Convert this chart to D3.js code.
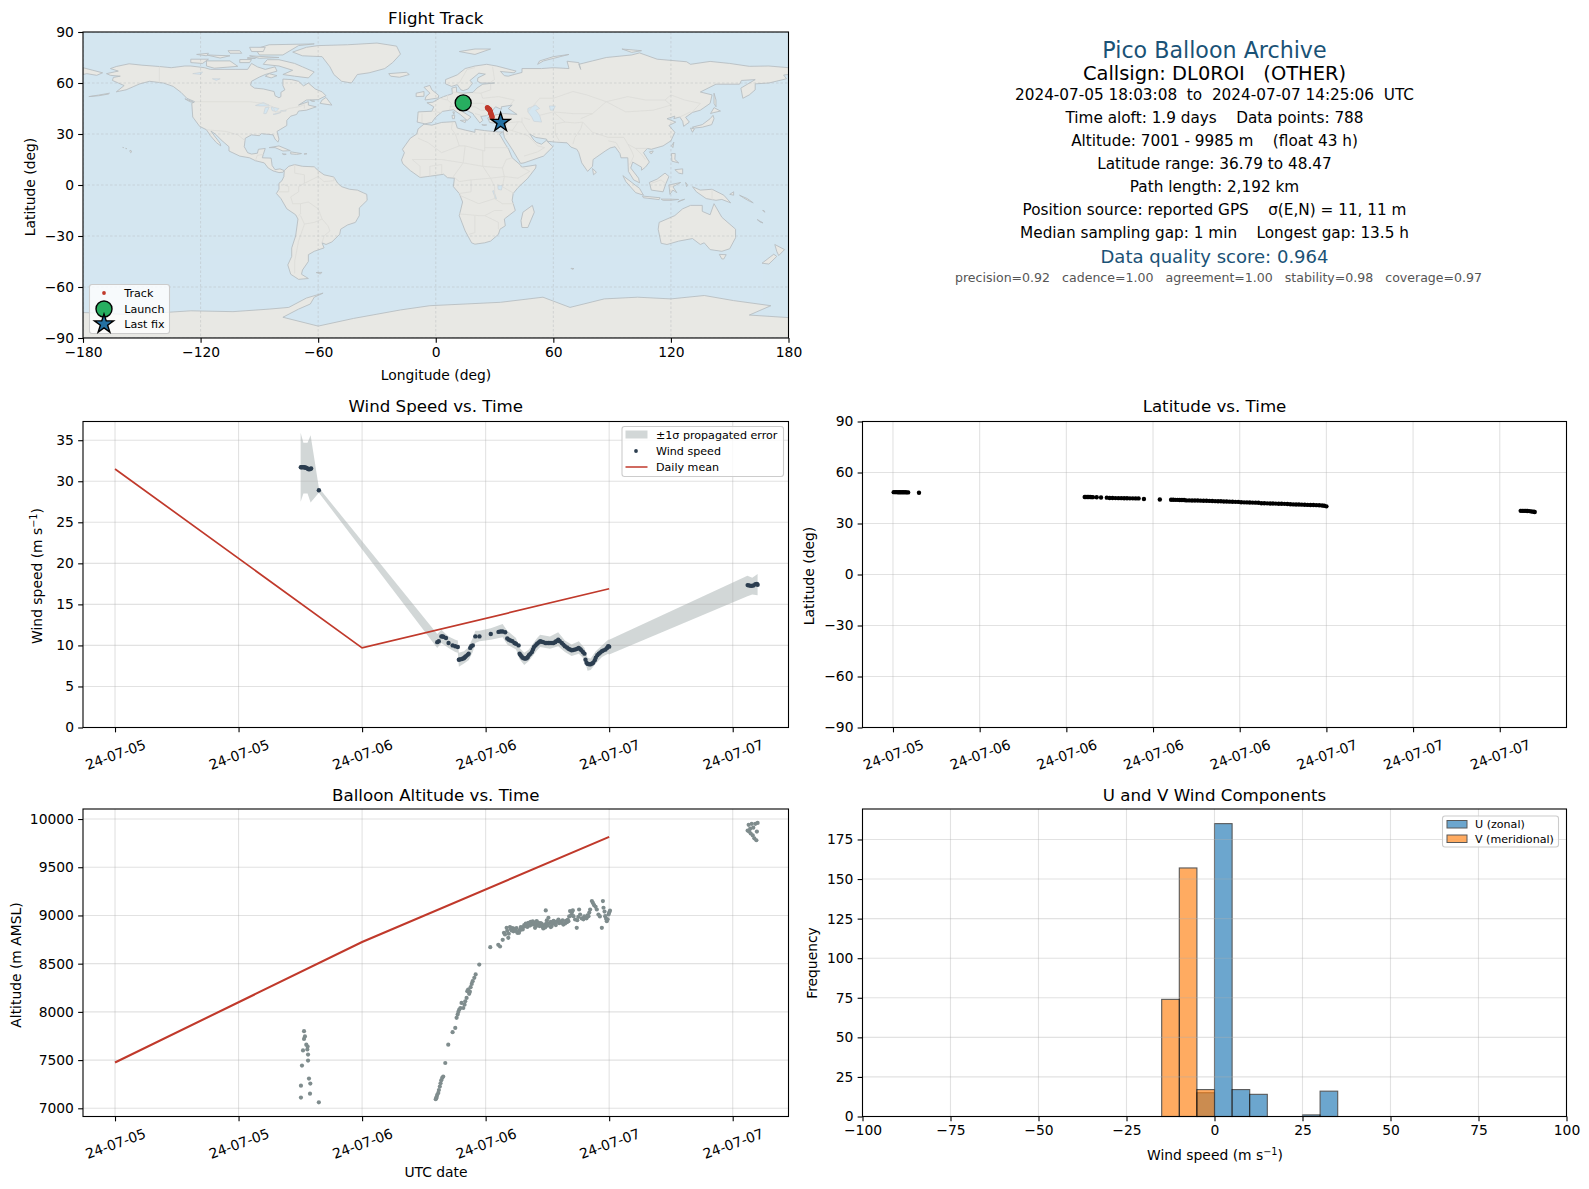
<!DOCTYPE html>
<html>
<head>
<meta charset="utf-8">
<script src="https://cdn.jsdelivr.net/npm/d3@7"></script>
<style>
  html, body { margin: 0; padding: 0; background: #fff; }
  text { font-family: "DejaVu Sans", sans-serif; fill: #000; }
  .pre { white-space: pre; }
</style>
</head>
<body>
<svg id="chart" width="1589" height="1189"></svg>
<script>
// ---- values. Time series are [hours since 2024-07-05 00:00 UTC, value].

const windPoints = [
  [18.05,31.7],[18.15,31.7],[18.25,31.72],[18.35,31.7],[18.45,31.68],[18.55,31.65],[18.65,31.6],[18.75,31.5],[18.85,31.45],[18.95,31.5],[19.05,31.55],[19.8,28.9],
  [31.3,10.4],[31.45,10.5],[31.7,11.1],[31.8,11.1],[31.9,11.05],[32.15,10.9],[32.4,10.3],[32.8,10.0],[33.05,9.9],[33.3,9.8],
  [33.4,8.25],[33.5,8.3],[33.65,8.33],[33.8,8.4],[33.9,8.45],[34.0,8.6],[34.1,8.7],[34.25,8.85],[34.35,9.0],[34.5,9.7],[34.6,9.9],[34.75,10.0],
  [35.0,11.1],[35.4,11.1],[36.5,11.4],[37.25,11.65],[37.45,11.7],[37.65,11.7],[37.9,11.6],[38.1,10.85],[38.25,10.7],[38.4,10.6],[38.6,10.5],[38.8,10.3],[38.95,10.2],[39.2,10.0],
  [39.3,9.0],[39.4,8.8],[39.5,8.65],[39.6,8.5],[39.75,8.4],[39.9,8.4],[40.0,8.45],[40.1,8.6],[40.2,8.8],[40.35,9.0],[40.5,9.2],[40.6,9.5],[40.7,9.8],[40.85,10.0],[41.0,10.2],[41.15,10.35],[41.3,10.5],[41.45,10.45],[41.6,10.4],[41.8,10.3],[41.95,10.3],[42.1,10.3],[42.25,10.3],[42.45,10.3],[42.6,10.3],[42.75,10.4],[42.85,10.5],[43.05,10.7],[43.2,10.5],[43.4,10.3],[43.55,10.1],[43.7,9.9],[43.9,9.75],[44.05,9.6],[44.2,9.5],[44.35,9.4],[44.5,9.45],[44.7,9.5],[44.9,9.6],[45.05,9.7],[45.2,9.55],[45.3,9.4],[45.45,9.2],[45.6,9.0],
  [45.7,8.25],[45.8,7.9],[45.9,7.75],[46.05,7.7],[46.2,7.7],[46.35,7.8],[46.45,7.9],[46.6,8.2],[46.7,8.5],[46.85,8.8],[47.0,9.0],[47.15,9.15],[47.3,9.3],[47.45,9.4],[47.65,9.5],[47.8,9.7],[47.9,9.9],[48.0,9.85],
  [61.45,17.35],[61.6,17.3],[61.8,17.25],[62.0,17.3],[62.2,17.45],[62.35,17.5],[62.42,17.4]
];

// [hours, lower, upper] of the +/-1 sigma ribbon
const windBand = [
  [18.03,27.5,35.9],[18.3,28.5,34.7],[18.7,28.5,34.7],[19.0,27.4,35.6],[19.8,28.6,29.2],
  [31.3,9.7,11.4],[31.7,10.3,11.9],[32.4,9.7,11.1],[33.05,9.2,10.7],[33.3,9.1,10.6],[33.4,7.4,9.1],[33.9,7.8,9.3],[34.35,8.2,9.8],[34.75,9.2,10.9],[35.0,10.3,11.8],[35.4,10.5,11.8],[36.5,10.7,12.1],[37.65,11.0,12.6],[38.1,10.1,11.8],[38.95,9.5,10.9],[39.3,8.3,9.7],[39.75,7.6,9.1],[40.2,8.1,9.5],[41.0,9.4,10.9],[41.3,9.8,11.3],[42.25,9.6,11.1],[43.05,9.9,11.6],[43.7,9.2,10.6],[44.35,8.7,10.1],[45.05,9.0,10.5],[45.6,8.3,9.7],[45.9,6.9,8.5],[46.2,7.0,8.4],[46.7,7.8,9.3],[47.3,8.6,10.0],[47.9,9.0,10.7],[48.0,8.9,10.7],
  [61.43,16.0,18.5],[61.9,16.2,18.25],[62.42,16.1,18.7]
];

const meanHours = [0, 24, 48];
const meanWind = [31.5, 9.7, 16.9];
const meanAltitude = [7475, 8725, 9815];

const altitudePoints = [
  [18.36,7800],[18.45,7745],[18.36,7720],[18.58,7660],[18.71,7640],[18.68,7610],[18.26,7600],[18.75,7557],[18.75,7495],[18.16,7443],[18.84,7308],[18.97,7256],[18.06,7235],[18.94,7152],[18.06,7111],[19.8,7062],
  [31.15,7095],[31.2,7105],[31.25,7120],[31.3,7140],[31.4,7160],[31.46,7190],[31.55,7225],[31.62,7260],[31.69,7290],[31.78,7315],[31.88,7330],[32.08,7470],[32.37,7660],[32.79,7790],[33.05,7834],[33.18,7938],[33.28,7972],[33.35,8000],[33.44,8024],[33.55,8040],[33.66,8093],[33.83,8040],[33.95,8075],[34.02,8110],[34.15,8145],[34.22,8215],[34.3,8230],[34.4,8187],[34.47,8210],[34.54,8256],[34.65,8290],[34.74,8318],[34.9,8353],[35.03,8388],[35.38,8491],
  [36.45,8671],[37.23,8695],[37.4,8678],[37.66,8747],[37.78,8820],[37.88,8803],[38.04,8872],[38.1,8840],[38.2,8768],[38.25,8810],[38.37,8879],[38.45,8860],[38.53,8844],[38.62,8870],[38.7,8835],[38.78,8860],[38.85,8855],[38.95,8840],[39.0,8870],[39.08,8820],[39.24,8820],[39.3,8845],[39.35,8850],[39.42,8880],[39.5,8872],[39.6,8855],[39.65,8880],[39.75,8900],[39.82,8889],[39.9,8915],[39.95,8900],[40.05,8880],[40.15,8924],[40.25,8915],[40.3,8895],[40.38,8934],[40.45,8905],[40.5,8920],[40.58,8940],[40.64,8907],[40.72,8925],[40.8,8872],[40.88,8905],[40.96,8941],[41.05,8895],[41.1,8925],[41.25,8890],[41.35,8920],[41.45,8914],[41.52,8885],[41.6,8865],[41.7,8900],[41.78,8875],[41.84,9052],[41.9,8920],[41.95,8950],[42.03,8895],[42.1,8976],[42.2,8920],[42.33,8879],[42.33,8934],[42.42,8890],[42.5,8915],[42.6,8945],[42.75,8924],[42.82,8900],[42.9,8935],[43.07,8958],[43.15,8920],[43.25,8935],[43.4,8924],[43.48,8950],[43.55,8905],[43.72,8917],[43.8,8945],[43.9,8930],[43.97,8955],[44.04,8941],[44.12,8990],[44.2,9045],[44.3,9000],[44.38,9030],[44.47,9052],[44.53,8993],[44.69,8958],[44.85,8872],[44.9,8950],[45.0,8985],[45.08,9062],[45.18,9010],[45.34,8969],[45.5,8960],[45.58,8990],[45.66,8976],[45.8,8970],[45.9,9000],[45.99,8993],[46.07,9030],[46.15,9062],[46.32,9149],[46.42,9130],[46.54,9107],[46.68,9090],[46.8,9062],[46.96,9010],[47.1,8990],[47.29,8872],[47.39,9149],[47.45,9080],[47.55,9040],[47.61,8993],[47.7,8965],[47.77,8941],[47.85,8960],[47.94,9010],[48.0,9030],[48.08,9050],
  [61.45,9880],[61.55,9940],[61.6,9870],[61.7,9900],[61.75,9850],[61.85,9950],[61.95,9830],[62.0,9910],[62.1,9800],[62.2,9950],[62.3,9780],[62.35,9870],[62.42,9960]
];

const latitudePoints = [
  [18.05,48.45],[18.15,48.45],[18.25,48.44],[18.35,48.42],[18.45,48.4],[18.55,48.4],[18.65,48.38],[18.75,48.36],[18.85,48.35],[18.95,48.33],[19.05,48.3],[19.8,48.1],
  [31.27,45.6],[31.35,45.6],[31.45,45.6],[31.55,45.55],[31.65,45.55],[31.75,45.5],[31.84,45.5],[32.1,45.4],[32.4,45.3],[32.8,45.2],
  [33.0,45.0],[33.2,45.0],[33.4,44.95],[33.6,44.9],[33.8,44.9],[34.0,44.85],[34.2,44.85],[34.4,44.8],[34.6,44.8],[34.8,44.75],[35.0,44.75],[35.37,44.4],[36.47,44.1],
  [37.25,43.95],[37.4,43.95],[37.55,43.9],[37.7,43.9],[37.85,43.85],[38.0,43.85],[38.15,43.8],[38.3,43.6],[38.5,43.6],[38.7,43.55],[38.9,43.5],[39.1,43.5],[39.3,43.45],[39.5,43.4],[39.7,43.4],[39.9,43.3],[40.1,43.2],[40.3,43.15],[40.5,43.1],[40.7,43.05],[40.9,42.95],[41.1,42.9],[41.3,42.85],[41.5,42.8],[41.7,42.75],[41.9,42.7],[42.1,42.5],[42.3,42.45],[42.5,42.4],[42.7,42.35],[42.9,42.3],[43.1,42.25],[43.3,42.2],[43.5,41.95],[43.7,41.9],[43.9,41.85],[44.1,41.8],[44.3,41.75],[44.5,41.7],[44.7,41.65],[44.9,41.6],[45.1,41.55],[45.3,41.5],[45.5,41.3],[45.7,41.25],[45.9,41.2],[46.1,41.15],[46.3,41.1],[46.5,41.0],[46.7,40.95],[46.9,40.9],[47.1,40.85],[47.3,40.8],[47.5,40.7],[47.7,40.6],[47.85,40.4],[48.0,40.1],
  [61.45,37.45],[61.6,37.4],[61.75,37.4],[61.9,37.35],[62.05,37.3],[62.2,37.1],[62.35,36.9],[62.42,36.8]
];

const trackLon = [26.3,26.5,26.7,27.0,27.3,27.5,27.6,27.7,27.9,28.0,28.05,28.1,28.3,28.5,28.7,28.8,33.0];
const trackLat = [45.6,45.3,45.0,44.8,44.5,44.2,44.0,43.6,43.2,42.8,42.4,42.0,41.5,41.0,40.3,39.8,36.79];
const launchFix = [14.0, 48.3];
const lastFix = [33.1, 36.79];

const histEdgesU = [-5,0,5,10,25,30];
const histCountsU = [15,185,17,14,1,16];
const histEdgesV = [-15,-10,-5];
const histCountsV = [74,157,17];
const histBinWidth = 5;

const lonTicks = [-180,-120,-60,0,60,120,180];
const latTicks = [-90,-60,-30,0,30,60,90];
const windTicks = [0,5,10,15,20,25,30,35];
const altTicks = [7000,7500,8000,8500,9000,9500,10000];
const histXTicks = [-100,-75,-50,-25,0,25,50,75,100];
const histYTicks = [0,25,50,75,100,125,150,175];
const leftTimeTicks = [0,12,24,36,48,60];
const rightTimeTicks = [18,24,30,36,42,48,54,60];

// land outlines, [lon, lat]
const land = [
  // North America
  [[-168,65.5],[-164,66.5],[-162,67],[-166,68.5],[-163,69.7],[-156.5,71.3],[-150,70.5],[-141,69.7],[-135,69],[-128,70],[-125,70],[-118,69],[-115,68],[-108,68],[-102,68],[-96,68],[-94,71.5],[-91,69.5],[-87,68],[-82,69.5],[-81,67],[-87,65],[-90,63.5],[-94,61],[-94.5,58.7],[-92.5,57],[-88,56.5],[-82.5,55],[-82,52.5],[-80,51.3],[-79,52],[-79,54.5],[-77,56],[-78,58.5],[-78,62.3],[-73.5,62],[-70,61],[-67.5,58.3],[-65,60],[-61.5,56.5],[-58,54.8],[-56,52.5],[-60,50.2],[-66,50],[-70,47],[-65,49],[-65,47],[-61,46],[-66,44],[-70,43.5],[-71,41.5],[-74,40.5],[-76,38],[-76,35],[-81,31.5],[-80,27],[-80.5,25.2],[-82,27],[-83,29.5],[-85.5,29.8],[-89,30.2],[-90,29],[-94,29.5],[-97.2,27.5],[-97.7,22.5],[-96,19],[-94,18.2],[-91,18.7],[-90.5,21],[-87,21.5],[-88,18],[-88.5,16],[-84,15.8],[-83.5,11.5],[-82,9],[-79.5,9.5],[-77.3,8.5],[-78,7.5],[-80,7.3],[-83,8.3],[-85.5,10],[-87.5,13],[-92,14.3],[-95,16],[-100,17],[-105.5,20],[-105.5,22.5],[-109,26],[-112.5,30],[-114.7,31.7],[-113,29],[-110,24.5],[-109.7,23],[-112,25],[-115,29],[-117,32.5],[-120.5,34.5],[-124,40],[-124.5,48],[-123,49],[-127,51],[-130,54.5],[-134,58],[-139,60],[-146,61],[-151,59.5],[-154,58],[-158,56],[-163,54.8],[-159,58.5],[-162,60],[-165,61.5],[-164.5,63.3],[-161,64],[-166,64.5]],
  // Greenland and the Arctic islands
  [[-73,78.2],[-66,81],[-60,82],[-45,82.5],[-30,83.5],[-20,81.7],[-18,77],[-22,72],[-26,68.5],[-34,66],[-40,65],[-43,60],[-48,61],[-52,65],[-54,69.5],[-58,75.5],[-68,76]],
  [[-80,73.7],[-72,71.5],[-68,69.5],[-62,66.5],[-65,63],[-72,64],[-78,65],[-73,67.5],[-80,70],[-88,71],[-86,73.7]],
  [[-117,73],[-105,73],[-101,69.8],[-113,68.7],[-117,70]],
  [[-125,74],[-116,74],[-119,71.5],[-125,72]],
  [[-90,76.5],[-78,76.5],[-70,82],[-62,83],[-85,82.5],[-92,80]],
  [[-95,76],[-80,75],[-90,74.5]],
  [[-117,76.5],[-105,76],[-110,74.7]],
  [[-100,73.8],[-94,73.8],[-95,72],[-100,72]],
  [[-122,76.8],[-116,77.5],[-117,76]],[[-106,79],[-100,79],[-99,77.5],[-105,77.5]],[[-95,81],[-87,81],[-88,78.5],[-94,78.5]],[[-85,65.5],[-81,64.3],[-84,63],[-87,64]],[[-96,75],[-92,74.5],[-96,74.3]],
  [[-59,48],[-53,47],[-56,51.5],[-58,50]],
  [[-128,50.7],[-124,49],[-123.5,48.5],[-125.5,49]],
  [[-64,49.8],[-61.8,49.3],[-63,49.2]],
  [[-85,22],[-80,23],[-74.2,20.2],[-78,20],[-82,22]],
  [[-74,19.5],[-68.5,18.5],[-71,18],[-74,18.3]],
  [[-78.3,18.4],[-76.3,18.1],[-77.5,17.8]],
  [[-67,18.5],[-65.7,18.4],[-67,18]],
  [[-156,20.5],[-155,19.7],[-155.7,19],[-156,19.5]],
  [[-159.7,22.2],[-159.3,22],[-159.6,21.9]],
  [[-158.2,21.6],[-157.7,21.4],[-158.1,21.3]],
  [[-177,52],[-172,52.5],[-167,53.5],[-166.5,54],[-172,52.9]],
  [[-24,65.5],[-15,66.3],[-13.5,65],[-18.5,63.4],[-23,64]],
  // South America
  [[-77.3,8.5],[-75,11],[-72,12],[-68,11],[-62,10.7],[-60,8.5],[-57,6],[-52,4.7],[-50,1],[-48,-1],[-44,-2.5],[-40,-3],[-35.2,-5.5],[-35,-9],[-39,-13.5],[-39,-18],[-41,-22],[-45,-23.5],[-48.5,-26],[-49,-29],[-53,-33.5],[-56,-35],[-58,-34],[-57,-37],[-62,-39],[-65,-41],[-65,-45],[-68,-50],[-68.5,-52.5],[-65,-55],[-70,-55.5],[-74,-52.5],[-75.5,-47],[-73.5,-42],[-73.5,-37],[-71.5,-30],[-70.3,-20],[-71.5,-17.5],[-76,-14],[-79,-8],[-81.3,-5],[-80,-2.5],[-80,1],[-78.5,2.5],[-77.5,5]],
  [[-61,-51.5],[-58,-51.4],[-59,-52.3]],
  // Africa and Madagascar
  [[-6,35.8],[-2,35.2],[3,36.8],[10,37.3],[11,33.5],[15,32.3],[20,31],[20,32.8],[25,32],[32,31.2],[34.2,31.2],[32.5,30],[35.5,24],[37.2,21],[39,16],[43,12],[44,10.5],[51.2,11.8],[51,10],[47,4],[42,-1.5],[39.5,-5],[39,-9],[40.6,-15],[35,-20],[35.5,-24],[32.8,-26],[32,-29],[28,-33],[25,-34],[20,-34.8],[18.3,-34],[15,-27],[12,-18],[13.7,-10],[12,-5],[9,-1],[9.5,4],[6,4.3],[4,6.3],[-4,5],[-8,4.4],[-13,8.5],[-16.8,12.5],[-17.5,14.7],[-16,19],[-17,21],[-13,27.5],[-9.7,30],[-9,33]],
  [[49.3,-12],[50.3,-16],[47,-25],[44,-25],[43.5,-21],[44.5,-16]],
  // Eurasia
  [[-9.5,37],[-9.3,38.7],[-9,43],[-2,43.4],[-1,46],[-4.5,48.4],[-1.5,48.7],[2,51],[4,52],[8.5,53.7],[8.2,57],[10.5,57.7],[10.7,54.5],[14,54],[19,54.5],[21,57],[24,59.3],[30,60],[23,60],[21.3,61],[21.5,63],[25.3,65.2],[22,65.8],[17.5,61.5],[18.8,59.8],[16.5,56.5],[14,55.5],[12.8,56],[11,59],[8,58],[5,59.5],[5,62],[11,64.8],[15,68.5],[20,70],[26,71],[31,70],[41,67],[40,66],[33,66.8],[35,64.3],[37,64],[40,65],[44,66.2],[44,68.5],[54,68.5],[60,69],[68,68.5],[67,72.8],[73,72],[74,68],[73,71],[80,73],[87,75],[100,76.5],[104,77.7],[113,74],[128,72.5],[130,71],[140,72.7],[150,71.5],[160,69.8],[170,70],[180,69],[180,65],[177.5,64.7],[179,62.5],[170,60],[163,59.5],[163,56],[160,53],[156.7,51],[155.7,57],[163,62],[156,61.5],[155,59.3],[143,59.3],[135,54.7],[141,53],[140,48],[135,44],[131,42.7],[127.5,39.8],[129.4,37],[126.5,34.5],[126,37.5],[124.5,40],[121.5,39],[122,40.5],[118,39],[122.5,37],[119,35],[122,31],[120,26],[116,23],[110,21],[108,21.5],[106,19],[109,13.5],[107,10.5],[105,8.7],[105,10.5],[100.5,13.5],[99.5,10],[103.5,4],[104,1.3],[101,3],[98.3,8],[98,16],[94.5,16],[94,18.5],[91.5,22.5],[89,21.8],[86.5,20],[80.3,15],[80,11],[77.5,8],[74.5,13],[73,19],[72,21],[69,22.3],[67,24.8],[61.5,25.2],[57,25.7],[56.5,27],[51,28],[48,30],[50,26.5],[51.5,25],[54,24],[56.4,26.2],[59.8,22.5],[55,17],[45,13],[43.3,12.7],[39,21],[35,28],[34.5,31.3],[36,36],[32,36],[27.5,36.8],[26.5,39.5],[29,41],[35,42],[41.5,41.5],[37,45],[39,47],[33.5,46],[33.5,44.5],[30.5,46],[28,42.5],[26,40.8],[23,40.3],[24,38],[22.5,36.5],[19.5,41],[19,42],[14,45],[12.5,44],[18,40],[16,38],[12.5,41.5],[9,44.3],[3.5,43.3],[0,40],[-2,36.8],[-5.5,36]],
  [[-180,69],[-175,67.5],[-170,66],[-173,64.5],[-178,65.5],[-180,65]],
  // islands of Europe and Asia
  [[-5.5,50],[1.3,51.2],[1.5,52.7],[-2,56],[-3,58.6],[-6,57.5],[-3,54],[-5,52]],
  [[-10,52],[-6,52.2],[-6,55],[-10,54]],
  [[12.5,38],[15.5,38.2],[15,36.7]],[[8.3,41],[9.7,41],[9.5,39],[8.5,39]],[[8.7,43],[9.5,43],[9.3,41.5]],
  [[23.5,35.5],[26,35.3],[24.5,35]],[[32.5,35],[34.5,35.6],[33.5,34.7]],
  [[12,78.5],[20,80],[28,80],[20,76.8]],
  [[52,71],[55,73],[68,76.8],[60,75.5],[53,73]],
  [[95,80],[105,79],[100,78]],
  [[142,54],[143,50],[143,46],[142,48]],
  [[130.9,34],[136,35.5],[140,39],[141.5,41],[142,39],[140.8,35.5],[136,34],[132,33.5]],
  [[140.2,42],[142,45.5],[145.3,43.5],[141.5,42.5]],
  [[130,33.5],[132,33],[131,31]],
  [[120.3,23],[121.5,25.2],[121,22]],[[109,19.5],[111,20],[110,18.2]],[[80,9.7],[82,7.5],[80.5,6]],
  [[95.5,5.5],[104,-2],[106,-6],[102,-4.5],[97,2]],
  [[105.5,-6.5],[114.5,-7.5],[114,-8.6],[106,-7.5]],
  [[115,-8.3],[119,-8.3],[124,-8.5],[120,-9],[116,-9]],
  [[123.5,-10],[127,-8.4],[125,-9]],
  [[109,1.5],[113,3.5],[117,7],[119,5],[117.5,1],[116,-4],[110,-3]],
  [[119.5,-5.5],[119,0],[125,1.5],[121,-1],[123,-4.5],[121,-3]],
  [[120.3,18.5],[122.2,18.5],[122,15],[124,13],[120.5,14]],[[122,9],[126,9.5],[126,6.5],[124,7]],
  [[131,-1],[135,-3],[141,-2.5],[147,-6],[150.5,-10.5],[146,-8.5],[143,-9],[138,-8],[133,-4]],
  [[127.5,1.5],[128.5,0],[128,-1]],[[150,-5.5],[152,-4],[152,-6]],
  [[155,-6],[157,-7.5],[160,-9.5],[162,-10.5],[159,-8]],[[166.8,-15],[168,-16],[167.5,-15]],[[164,-20.3],[167,-22.3],[165.5,-21.8]],
  // Australia, New Zealand
  [[114,-22],[122,-18],[126,-14],[130,-12],[136,-12],[136,-15.5],[140,-17.5],[142,-11],[146,-19],[153,-26],[153,-31],[150,-37.5],[146,-39],[140,-38],[137,-34],[135,-35],[131,-31.5],[124,-33],[118,-35],[115,-34.3],[113.5,-26]],
  [[144.7,-40.8],[148.2,-41],[147,-43.5],[146,-43.5]],
  [[173,-35],[178,-38],[175,-41.5],[174,-39]],[[172.5,-40.7],[174,-42],[170,-46.5],[166.5,-46],[171,-42]],
  [[69,-49],[70.5,-49.2],[69.5,-49.6]],
  // Antarctica
  [[-180,-75],[-160,-76],[-145,-75.5],[-125,-74],[-103.5,-74.5],[-85,-73],[-75,-72],[-66,-66.5],[-57.5,-63.6],[-62,-66],[-64,-70],[-70,-73],[-78,-77.8],[-60,-83],[-42,-78.5],[-30,-76],[-18,-73.5],[-3,-71],[15,-70],[33,-69],[54.7,-66],[68.5,-72],[86,-67],[103,-66],[120,-67],[137,-65],[152,-68],[171,-71],[160,-76.5],[180,-78],[180,-90],[-180,-90]]
];

// lakes and inland seas, painted in the ocean colour
const lakes = [
  [[47,45],[51,47],[53,45],[51,44],[53,41],[54,37],[50,37.5],[49,40],[47,43]],
  [[-92,46.8],[-88,48.5],[-85,47],[-85,46.5],[-90,46.5]],[[-87.8,42],[-86.5,42],[-85,45.8],[-87,45.5]],[[-84,46],[-80,45],[-81.5,43.2],[-83.5,43.8]],[[-83,41.6],[-79,42.8],[-79,42.6],[-82,41.5]],[[-79.5,43.3],[-76.3,43.5],[-76.5,44],[-79.2,43.7]],
  [[31.7,-0.5],[34,-0.3],[33.5,-3],[31.8,-2.5]],[[58,46.5],[61,46.5],[60,44],[58.5,44]],
  [[-112,61.5],[-110,62.5],[-114,62.5]],[[-124,65.5],[-119,66.5],[-120,65]],[[29,-3.5],[29.5,-3.2],[31,-8],[30.5,-8]]
];

// country borders, [lon, lat]
const borders = [
  [[-141,69.7],[-141,60.2]],[[-123,49],[-95,49],[-88,48],[-83,46],[-82,43],[-79,43],[-75,45],[-70,46],[-67,47.2],[-67,45]],
  [[-117,32.5],[-107,31.5],[-101,29.5],[-97.2,26]],[[-92,14.5],[-91,17.5],[-88,18]],
  [[-72,12],[-72,7],[-67,6],[-67,1],[-70,-1],[-70,-4],[-74,-7],[-73,-11],[-69,-11],[-69,-17],[-70,-18]],[[-67,1],[-60,5],[-60,8.5]],[[-60,5],[-57,2],[-52,2.5],[-52,4.7]],[[-78,0.5],[-75,-1],[-75,-4],[-80,-4]],[[-69,-11],[-65,-10],[-60,-14],[-58,-20],[-62,-22],[-67,-23],[-69,-18]],[[-58,-20],[-55,-24],[-54,-27],[-57,-30],[-58,-34]],[[-67,-23],[-70,-33],[-72,-45],[-72,-52]],
  [[2,51],[6,50],[8,48],[7,44]],[[-2,43.4],[3,42.5]],[[-7,42],[-7,37]],[[8.5,54.7],[14,54]],[[6,50],[6,53]],[[14,54],[15,51],[12,48],[17,48],[22,48],[24,48],[29,45.5]],[[7,46],[13,47],[17,46],[20,46],[23,44],[28,43.8]],[[19,54.3],[23,54],[24,51],[32,52],[40,50],[38,47]],[[28,59.5],[28,56],[23,54]],[[12,60],[16,68],[20,69]],[[29,69.5],[30,62],[28,60.5]],[[27,42],[26,41]],[[20,42],[23,41]],
  [[44,39.5],[44,37],[42,37.2],[36,36.5]],[[44,37],[46,33],[48,30]],[[39,32],[42,37]],[[35.5,33],[39,32],[47,29]],[[47,29],[52,23],[55.5,22],[52,19.5],[45,17]],[[45,39.5],[48,38.5]],
  [[53,41],[60,43],[66,37],[61,36]],[[61,36],[61,30],[63,26]],[[66,37],[71,36.5],[75,37],[74,33],[71,28],[70,24]],[[53,51],[60,51],[70,55],[77,53],[87,49],[98,52],[107,50],[117,50],[120,53],[127,50],[135,48],[131,43]],[[87,49],[80,42],[74,39]],[[87,49],[97,43],[111,44],[120,47],[117,50]],[[75,37],[80,31],[88,28],[96,28],[98,24],[102,21.5],[108,21.5]],[[47,43],[53,51]],[[60,43],[70,42],[80,42]],[[88,26],[92,25],[94,21]],[[98,24],[100,20],[101,17],[99,12]],[[102,21.5],[105,18],[107,15]],[[124.5,40],[130,43]],
  [[-9,27.5],[-4,25],[3,19],[12,23],[10,30],[8,33],[8.5,37]],[[12,23],[15,23],[25,20],[25,31]],[[25,22],[37,22]],[[-12,15],[-5,15],[3,15],[14,13],[15,23]],[[14,13],[24,11],[34,10],[36,15],[39,16]],[[24,20],[24,11]],[[34,10],[35,5],[42,4],[48,8],[43,11]],[[14,13],[9,5]],[[24,11],[28,4],[35,5]],[[28,4],[30,-1],[30,-8],[22,-11],[12,-6]],[[35,5],[34,-1],[40,-5]],[[30,-8],[34,-11],[40,-11]],[[12,-17],[22,-18],[25,-18],[30,-15],[34,-15]],[[20,-18],[20,-28],[17,-29]],[[25,-18],[32,-22],[32,-26]],[[-3,5],[-3,11],[3,12],[3,6.5]],[[-8,4.4],[-8,11],[-12,15]],[[9,5],[12,2],[18,3],[18,-4],[12,-5]],[[18,3],[28,4]],
  [[141,-2.5],[141,-9]],[[117,1],[115,3],[110,1]]
];

// ---- layout

const svg = d3.select('#chart');
const tickFont = 13.89;

const boxMap = { x: 83, y: 32, w: 705.5, h: 306 };
const boxWind = { x: 83, y: 421.5, w: 705.5, h: 306 };
const boxAlt = { x: 83, y: 809, w: 705.5, h: 307.5 };
const boxLat = { x: 862.5, y: 421.5, w: 704, h: 306 };
const boxHist = { x: 862.5, y: 809, w: 704, h: 307.5 };

const hoursToDate = (h) => new Date(Date.UTC(2024, 6, 5) + h * 3600e3);
const utcLabel = d3.utcFormat('%y-%m-%d');

function xScale(box, domain) {
  return d3.scaleLinear().domain(domain).range([box.x, box.x + box.w]);
}
function yScale(box, domain) {
  return d3.scaleLinear().domain(domain).range([box.y + box.h, box.y]);
}
function timeScale(box, fromH, toH) {
  return d3.scaleUtc().domain([hoursToDate(fromH), hoursToDate(toH)]).range([box.x, box.x + box.w]);
}

function drawGrid(box, x, y, xTicks, yTicks) {
  // translucent, so it shows faintly over the histogram bars
  const g = svg.append('g')
    .attr('stroke', '#b0b0b0')
    .attr('stroke-opacity', 0.36)
    .attr('stroke-width', 1.1);
  g.selectAll('.v').data(xTicks).join('line').attr('class', 'v')
    .attr('x1', (d) => x(d)).attr('x2', (d) => x(d))
    .attr('y1', box.y).attr('y2', box.y + box.h);
  g.selectAll('.h').data(yTicks).join('line').attr('class', 'h')
    .attr('x1', box.x).attr('x2', box.x + box.w)
    .attr('y1', (d) => y(d)).attr('y2', (d) => y(d));
}

function styleAxis(g) {
  g.select('.domain').remove();
  g.selectAll('line').attr('stroke', '#000').attr('stroke-width', 1.1);
  g.selectAll('text').attr('font-size', tickFont).attr('font-family', '"DejaVu Sans"').attr('fill', '#000');
}

function drawFrame(box, x, y, xTicks, yTicks, xFmt, rotate) {
  const gx = svg.append('g').attr('transform', `translate(0,${box.y + box.h})`)
    .call(d3.axisBottom(x).tickValues(xTicks).tickFormat(xFmt).tickSize(4.86).tickPadding(4.2));
  styleAxis(gx);
  if (rotate) {
    // matplotlib centres the rotated bounding box under the tick
    gx.selectAll('text')
      .attr('text-anchor', 'middle').attr('dy', null).attr('y', null)
      .attr('dominant-baseline', 'central')
      .attr('transform', 'translate(0,27) rotate(-20)');
  }
  const gy = svg.append('g').attr('transform', `translate(${box.x},0)`)
    .call(d3.axisLeft(y).tickValues(yTicks).tickSize(4.86).tickPadding(4.2).tickFormat(d3.format('d')));
  styleAxis(gy);
  svg.append('rect').attr('x', box.x).attr('y', box.y).attr('width', box.w).attr('height', box.h)
    .attr('fill', 'none').attr('stroke', '#000').attr('stroke-width', 1.1);
}

function title(box, text, y) {
  svg.append('text').attr('x', box.x + box.w / 2).attr('y', y)
    .attr('text-anchor', 'middle').attr('font-size', 16.67).text(text);
}
function xLabel(cx, y, text) {
  return svg.append('text').attr('x', cx).attr('y', y).attr('text-anchor', 'middle').attr('font-size', tickFont).text(text);
}
function yLabel(cx, cy, text) {
  return svg.append('text').attr('transform', `translate(${cx},${cy}) rotate(-90)`)
    .attr('text-anchor', 'middle').attr('font-size', tickFont).text(text);
}
function addUnit(sel) {
  // "m s^-1" with a real superscript
  sel.append('tspan').attr('dy', -5).attr('font-size', 9.7).text('\u22121');
  sel.append('tspan').attr('dy', 5).text(')');
}

function legendBox(x, y, w, h) {
  svg.append('rect').attr('x', x).attr('y', y).attr('width', w).attr('height', h).attr('rx', 2.5)
    .attr('fill', '#fff').attr('fill-opacity', 0.8).attr('stroke', '#ccc').attr('stroke-width', 1.1);
}
function legendText(x, y, text) {
  svg.append('text').attr('x', x).attr('y', y).attr('font-size', 11.1).attr('dominant-baseline', 'central').text(text);
}

// ---- flight track map

{
  const box = boxMap;
  const x = xScale(box, [-180, 180]);
  const y = yScale(box, [-90, 90]);
  const path = d3.line().x((d) => x(d[0])).y((d) => y(d[1]));
  const ring = (d) => path(d) + 'Z';

  svg.append('clipPath').attr('id', 'map-clip').append('rect')
    .attr('x', box.x).attr('y', box.y).attr('width', box.w).attr('height', box.h);
  const g = svg.append('g').attr('clip-path', 'url(#map-clip)');

  g.append('rect').attr('x', box.x).attr('y', box.y).attr('width', box.w).attr('height', box.h).attr('fill', '#d4e6f1');
  g.selectAll('.land').data(land).join('path').attr('class', 'land').attr('d', ring)
    .attr('fill', '#e8e8e4').attr('stroke', '#b8bec2').attr('stroke-width', 0.9).attr('stroke-linejoin', 'round');
  g.selectAll('.lake').data(lakes).join('path').attr('class', 'lake').attr('d', ring)
    .attr('fill', '#d4e6f1').attr('stroke', '#c4cdd2').attr('stroke-width', 0.5);
  g.selectAll('.border').data(borders).join('path').attr('class', 'border').attr('d', path)
    .attr('fill', 'none').attr('stroke', '#dcdcd8').attr('stroke-width', 0.8);

  const grid = g.append('g').attr('stroke', '#b4b8ba').attr('stroke-width', 0.7).attr('stroke-dasharray', '2.5,2').attr('opacity', 0.6);
  grid.selectAll('.v').data(lonTicks).join('line').attr('class', 'v')
    .attr('x1', (d) => x(d)).attr('x2', (d) => x(d)).attr('y1', box.y).attr('y2', box.y + box.h);
  grid.selectAll('.h').data(latTicks).join('line').attr('class', 'h')
    .attr('x1', box.x).attr('x2', box.x + box.w).attr('y1', (d) => y(d)).attr('y2', (d) => y(d));

  g.selectAll('.track').data(d3.zip(trackLon, trackLat)).join('circle').attr('class', 'track')
    .attr('cx', (d) => x(d[0])).attr('cy', (d) => y(d[1])).attr('r', 2.5).attr('fill', '#c0392b');
  g.append('circle').attr('cx', x(launchFix[0])).attr('cy', y(launchFix[1])).attr('r', 8)
    .attr('fill', '#27ae60').attr('stroke', '#000').attr('stroke-width', 1.4);
  g.append('path').attr('d', d3.symbol(d3.symbolStar, 112)())
    .attr('transform', `translate(${x(lastFix[0])},${y(lastFix[1])})`)
    .attr('fill', '#2471a3').attr('stroke', '#000').attr('stroke-width', 1.4);

  drawFrame(box, x, y, lonTicks, latTicks, d3.format('d'), false);
  title(box, 'Flight Track', 24);
  xLabel(436, 380, 'Longitude (deg)');
  yLabel(35, 187, 'Latitude (deg)');

  legendBox(89.5, 284.5, 80, 49);
  svg.append('circle').attr('cx', 104).attr('cy', 293).attr('r', 1.9).attr('fill', '#c0392b');
  svg.append('circle').attr('cx', 104).attr('cy', 309).attr('r', 8).attr('fill', '#27ae60').attr('stroke', '#000').attr('stroke-width', 1.4);
  svg.append('path').attr('d', d3.symbol(d3.symbolStar, 112)()).attr('transform', 'translate(104,324)')
    .attr('fill', '#2471a3').attr('stroke', '#000').attr('stroke-width', 1.4);
  legendText(124.3, 293, 'Track');
  legendText(124.3, 309, 'Launch');
  legendText(124.3, 324, 'Last fix');
}

// ---- summary text

const infoLines = [
  { text: 'Pico Balloon Archive', y: 58, size: 22.2, color: '#1a5276', x: 1214.5 },
  { text: 'Callsign: DL0ROI   (OTHER)', y: 79.5, size: 19.44, color: '#000', x: 1214.5 },
  { text: '2024-07-05 18:03:08  to  2024-07-07 14:25:06  UTC', y: 100, size: 15.28, color: '#000', x: 1214.5 },
  { text: 'Time aloft: 1.9 days    Data points: 788', y: 123, size: 15.28, color: '#000', x: 1214.5 },
  { text: 'Altitude: 7001 - 9985 m    (float 43 h)', y: 146, size: 15.28, color: '#000', x: 1214.5 },
  { text: 'Latitude range: 36.79 to 48.47', y: 169, size: 15.28, color: '#000', x: 1214.5 },
  { text: 'Path length: 2,192 km', y: 192, size: 15.28, color: '#000', x: 1214.5 },
  { text: 'Position source: reported GPS    \u03c3(E,N) = 11, 11 m', y: 215, size: 15.28, color: '#000', x: 1214.5 },
  { text: 'Median sampling gap: 1 min    Longest gap: 13.5 h', y: 238, size: 15.28, color: '#000', x: 1214.5 },
  { text: 'Data quality score: 0.964', y: 263, size: 18.05, color: '#1a5276', x: 1214.5 },
  { text: 'precision=0.92   cadence=1.00   agreement=1.00   stability=0.98   coverage=0.97', y: 282, size: 12.57, color: '#555', x: 1218.5 }
];
svg.selectAll('.info').data(infoLines).join('text').attr('class', 'info pre')
  .attr('x', (d) => d.x).attr('y', (d) => d.y).attr('text-anchor', 'middle')
  .attr('font-size', (d) => d.size).style('fill', (d) => d.color).text((d) => d.text);

// ---- wind speed vs time

{
  const box = boxWind;
  const x = timeScale(box, -3.11, 65.42);
  const y = yScale(box, [0, 37.28]);
  const area = d3.area().x((d) => x(hoursToDate(d[0]))).y0((d) => y(d[1])).y1((d) => y(d[2]));

  svg.append('path').attr('d', area(windBand)).attr('fill', '#7f8c8d').attr('fill-opacity', 0.35);
  const ticks = leftTimeTicks.map(hoursToDate);
  drawGrid(box, x, y, ticks, windTicks);
  svg.append('path').attr('fill', 'none').attr('stroke', '#c0392b').attr('stroke-width', 1.7)
    .attr('d', d3.line().x((d) => x(hoursToDate(d[0]))).y((d) => y(d[1]))(d3.zip(meanHours, meanWind)));
  svg.selectAll('.wind').data(windPoints).join('circle').attr('class', 'wind')
    .attr('cx', (d) => x(hoursToDate(d[0]))).attr('cy', (d) => y(d[1])).attr('r', 2.2).attr('fill', '#2c3e50');

  drawFrame(box, x, y, ticks, windTicks, utcLabel, true);
  title(box, 'Wind Speed vs. Time', 411.5);
  addUnit(yLabel(42, 576, 'Wind speed (m s'));

  legendBox(622, 426.5, 161.5, 50);
  svg.append('rect').attr('x', 625.5).attr('y', 430.5).attr('width', 22).attr('height', 8).attr('fill', '#7f8c8d').attr('fill-opacity', 0.35);
  svg.append('circle').attr('cx', 636).attr('cy', 451).attr('r', 1.9).attr('fill', '#2c3e50');
  svg.append('line').attr('x1', 625.5).attr('x2', 647.5).attr('y1', 467).attr('y2', 467).attr('stroke', '#c0392b').attr('stroke-width', 1.5);
  legendText(656, 435, '\u00b11\u03c3 propagated error');
  legendText(656, 451, 'Wind speed');
  legendText(656, 467, 'Daily mean');
}

// ---- latitude vs time

{
  const box = boxLat;
  const x = timeScale(box, 15.89, 64.62);
  const y = yScale(box, [-90, 90]);
  const ticks = rightTimeTicks.map(hoursToDate);
  drawGrid(box, x, y, ticks, latTicks);
  svg.selectAll('.lat').data(latitudePoints).join('circle').attr('class', 'lat')
    .attr('cx', (d) => x(hoursToDate(d[0]))).attr('cy', (d) => y(d[1])).attr('r', 2.2).attr('fill', '#000');
  drawFrame(box, x, y, ticks, latTicks, utcLabel, true);
  title(box, 'Latitude vs. Time', 411.5);
  yLabel(814, 576, 'Latitude (deg)');
}

// ---- altitude vs time

{
  const box = boxAlt;
  const x = timeScale(box, -3.11, 65.42);
  const y = yScale(box, [6915, 10104]);
  const ticks = leftTimeTicks.map(hoursToDate);
  drawGrid(box, x, y, ticks, altTicks);
  svg.append('path').attr('fill', 'none').attr('stroke', '#c0392b').attr('stroke-width', 2.1)
    .attr('d', d3.line().x((d) => x(hoursToDate(d[0]))).y((d) => y(d[1]))(d3.zip(meanHours, meanAltitude)));
  svg.selectAll('.alt').data(altitudePoints).join('circle').attr('class', 'alt')
    .attr('cx', (d) => x(hoursToDate(d[0]))).attr('cy', (d) => y(d[1])).attr('r', 2.1).attr('fill', '#7f8c8d');
  drawFrame(box, x, y, ticks, altTicks, utcLabel, true);
  title(box, 'Balloon Altitude vs. Time', 801);
  yLabel(21, 965, 'Altitude (m AMSL)');
  xLabel(436, 1177, 'UTC date');
}

// ---- wind component histogram

{
  const box = boxHist;
  const x = xScale(box, [-100, 100]);
  const y = yScale(box, [0, 194.25]);
  const bars = (edges, counts, color) => {
    svg.append('g').selectAll('rect').data(d3.zip(edges, counts)).join('rect')
      .attr('x', (d) => x(d[0])).attr('width', (d) => x(d[0] + histBinWidth) - x(d[0]))
      .attr('y', (d) => y(d[1])).attr('height', (d) => y(0) - y(d[1]))
      .attr('fill', color).attr('stroke', '#000').attr('stroke-width', 1.1).attr('opacity', 0.65);
  };
  bars(histEdgesU, histCountsU, '#1f77b4');
  bars(histEdgesV, histCountsV, '#ff7f0e');
  drawGrid(box, x, y, histXTicks, histYTicks);
  drawFrame(box, x, y, histXTicks, histYTicks, d3.format('d'), false);
  title(box, 'U and V Wind Components', 801);
  yLabel(817, 963, 'Frequency');
  addUnit(xLabel(1215, 1160, 'Wind speed (m s'));

  legendBox(1442.5, 816, 116, 31);
  svg.append('rect').attr('x', 1447).attr('y', 820.5).attr('width', 20).attr('height', 7.5).attr('fill', '#1f77b4').attr('stroke', '#000').attr('opacity', 0.65);
  svg.append('rect').attr('x', 1447).attr('y', 835).attr('width', 20).attr('height', 7.5).attr('fill', '#ff7f0e').attr('stroke', '#000').attr('opacity', 0.65);
  legendText(1475, 824.5, 'U (zonal)');
  legendText(1475, 839, 'V (meridional)');
}
</script>
</body>
</html>
